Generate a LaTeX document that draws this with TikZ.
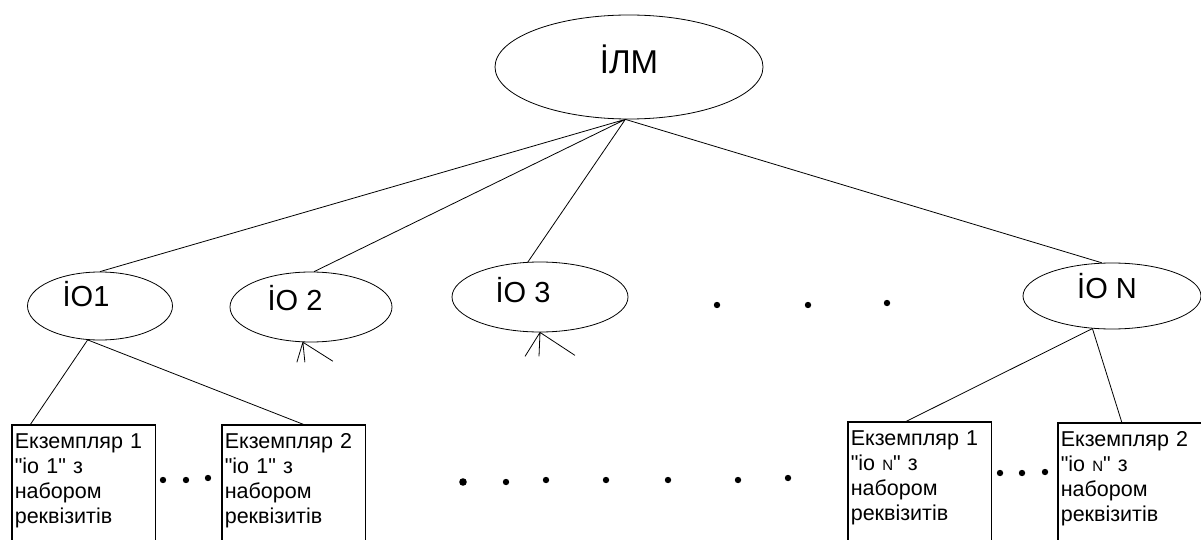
\documentclass[tikz,border=0pt]{standalone}
\usepackage{fontspec}
\setmainfont{Liberation Sans}[Ligatures=TeXOff]
\usetikzlibrary{shapes.geometric}

\tikzset{
  obj/.style={ellipse,draw,line width=0.8pt,inner sep=0pt},
  objlbl/.style={font=\fontsize{29}{30}\selectfont},
  inst/.style={draw,line width=0.6pt,anchor=north west,align=left,text width=138pt,
    inner xsep=2.5pt,inner ysep=8pt,font=\fontsize{21.5}{25}\selectfont},
  lnk/.style={line width=0.8pt},
  thk/.style={line width=2.5pt}
}
\newcommand{\smN}{{\fontsize{15}{15}\selectfont N}}

\begin{document}
\begin{tikzpicture}[x=1pt,y=-1pt]
\useasboundingbox (0,0) rectangle (1201,540);
\clip (0,0) rectangle (1201,540);

% objects
\node[obj,minimum width=268pt,minimum height=104pt,
  label={[font=\fontsize{33}{34}\selectfont,yshift=8pt]center:İЛМ}] (ilm) at (629,67) {};
\node[obj,minimum width=145pt,minimum height=68pt,
  label={[objlbl,xshift=-14pt,yshift=12pt]center:İО1}] (io1) at (100,306) {};
\node[obj,minimum width=162pt,minimum height=70pt,
  label={[objlbl,xshift=-16pt,yshift=9pt]center:İО 2}] (io2) at (311,307) {};
\node[obj,minimum width=176pt,minimum height=70pt,
  label={[objlbl,xshift=-17pt,yshift=7pt]center:İО 3}] (io3) at (540,297) {};
\node[obj,minimum width=178pt,minimum height=66pt,
  label={[objlbl,xshift=-5pt,yshift=10pt]center:İО N}] (ioN) at (1112,296) {};

% instances
\node[inst] (e11) at (12,425) {Екземпляр 1\\"іо 1" з\\набором\\реквізитів\\ \mbox{}};
\node[inst] (e12) at (222,425) {Екземпляр 2\\"іо 1" з\\набором\\реквізитів\\ \mbox{}};
\node[inst] (eN1) at (848,422) {Екземпляр 1\\"іо \smN" з\\набором\\реквізитів\\ \mbox{}};
\node[inst] (eN2) at (1058,423) {Екземпляр 2\\"іо \smN" з\\набором\\реквізитів\\ \mbox{}};

\foreach \b in {e11,e12,eN1,eN2}
  \draw[thk] (\b.south west) -- (\b.north west) -- (\b.north east);

% links
\coordinate (hub) at (ilm.266);
\draw[lnk] (hub) -- (io1.north) (hub) -- (io2.85) (hub) -- (io3.109) (hub) -- (ioN.107);

\draw[lnk] (io1.250) -- ([xshift=18pt]e11.north west)
           (io1.250) -- ([xshift=83pt]e12.north west);
\draw[lnk] (ioN.239) -- ([xshift=57pt]eN1.north west)
           (ioN.239) -- ([xshift=64pt]eN2.north west);

\draw[lnk] (io2.257) -- ++(-6,20) (io2.257) -- ++(2,20) (io2.257) -- ++(30,19);
\draw[lnk] (io3.south) -- ++(-15,24) (io3.south) -- ++(-1,24) (io3.south) -- ++(35,23);

% dots
\fill (717,305) circle (3.2pt) (808,305) circle (3.2pt) (887,303) circle (3.2pt);
\fill (163,480) circle (3.2pt) (186,480) circle (3.2pt) (208,478) circle (3.2pt);
\fill (1000,473) circle (3.2pt) (1022,473) circle (3.2pt) (1045,472) circle (3.2pt);
\fill (463,482) circle (3.8pt) (506,482) circle (3.2pt) (546,480) circle (3.2pt)
      (606,480) circle (3.2pt) (668,480) circle (3.2pt) (738,480) circle (3.2pt)
      (788,478) circle (3.2pt);

\end{tikzpicture}
\end{document}
